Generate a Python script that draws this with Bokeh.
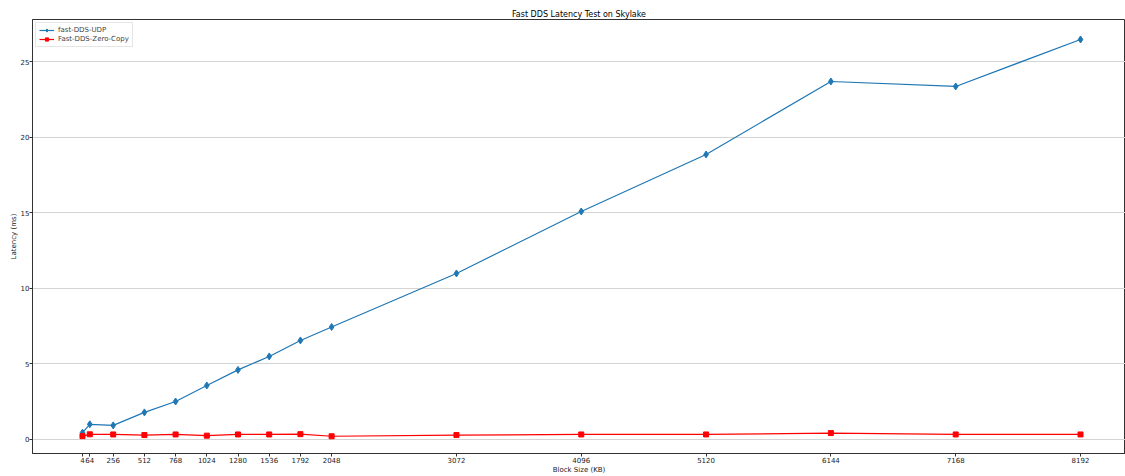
from bokeh.plotting import figure
from bokeh.models import FixedTicker, Range1d, Legend, LegendItem
from bokeh.embed import file_html
from bokeh.resources import INLINE

block_sizes = [4, 64, 256, 512, 768, 1024, 1280, 1536, 1792, 2048, 3072, 4096, 5120, 6144, 7168, 8192]
udp_latency = [0.45, 1.0, 0.93, 1.79, 2.51, 3.57, 4.6, 5.49, 6.55, 7.44, 10.98, 15.08, 18.85, 23.68, 23.35, 26.46]
zero_copy_latency = [0.22, 0.34, 0.33, 0.29, 0.33, 0.25, 0.33, 0.33, 0.35, 0.21, 0.29, 0.33, 0.33, 0.42, 0.33, 0.33]
y_ticks = [0, 5, 10, 15, 20, 25]

FONT = "DejaVu Sans"

p = figure(width=1125, height=476, output_backend="svg", toolbar_location=None,
           x_range=Range1d(-406, 8561), y_range=Range1d(-0.93, 27.78),
           min_border_left=32, min_border_right=0, min_border_top=19, min_border_bottom=21)
p.title.text = "Fast DDS Latency Test on Skylake"
p.title.align = "center"
p.title.text_font = FONT
p.title.text_font_size = "8px"
p.title.text_font_style = "normal"
p.title.text_color = "#000000"
p.title.standoff = 2

p.background_fill_color = "white"
p.border_fill_color = "white"
p.outline_line_color = "#333333"
p.outline_line_width = 1

p.xgrid.grid_line_color = None
p.ygrid.grid_line_color = "#d4d4d4"
p.ygrid.grid_line_width = 1

p.xaxis.ticker = FixedTicker(ticks=block_sizes)
p.yaxis.ticker = FixedTicker(ticks=y_ticks)
p.xaxis.axis_label = "Block Size (KB)"
p.yaxis.axis_label = "Latency (ms)"
for ax in (p.xaxis, p.yaxis):
    ax.axis_label_text_font = FONT
    ax.axis_label_text_font_size = "7px"
    ax.axis_label_text_font_style = "normal"
    ax.axis_label_text_color = "#222222"
    ax.major_label_text_font = FONT
    ax.major_label_text_font_size = "7px"
    ax.major_label_text_color = "#222222"
    ax.major_tick_out = 3
    ax.major_tick_in = 0
    ax.minor_tick_out = 0
    ax.minor_tick_in = 0
    ax.axis_line_color = "#333333"
    ax.major_tick_line_color = "#333333"
    ax.major_label_standoff = 0
    ax.axis_label_standoff = 0

udp_line = p.line(block_sizes, udp_latency, line_color="#1f77b4", line_width=1.2)
udp_mark = p.scatter(block_sizes, udp_latency, marker="diamond", size=7,
                     fill_color="#1f77b4", line_color="#1f77b4")
zc_line = p.line(block_sizes, zero_copy_latency, line_color="#ff0000", line_width=1.2)
zc_mark = p.scatter(block_sizes, zero_copy_latency, marker="square", size=5,
                    fill_color="#ff0000", line_color="#ff0000")

legend = Legend(items=[
    LegendItem(label="fast-DDS-UDP", renderers=[udp_line, udp_mark]),
    LegendItem(label="Fast-DDS-Zero-Copy", renderers=[zc_line, zc_mark]),
], location="top_left")
legend.label_text_font = FONT
legend.label_text_font_size = "7px"
legend.label_height = 8
legend.glyph_height = 8
legend.glyph_width = 15
legend.spacing = 1
legend.padding = 3
legend.margin = 3
legend.label_standoff = 4
legend.border_line_color = "#cccccc"
legend.border_line_width = 1
legend.background_fill_alpha = 0.9
p.add_layout(legend)

open("out.html", "w").write(file_html(p, INLINE))
